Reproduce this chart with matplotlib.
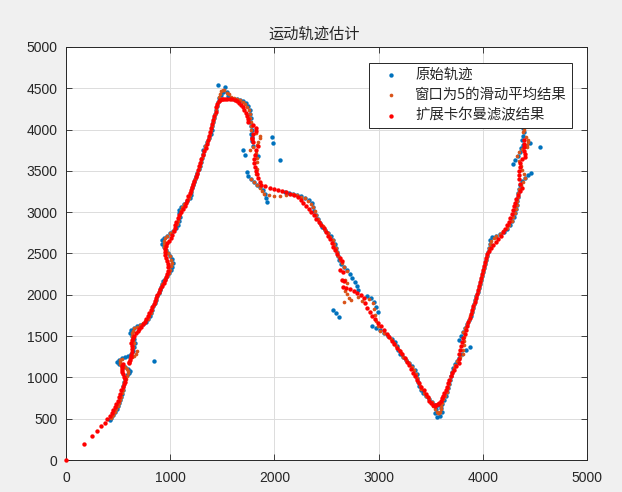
import numpy as np
import pandas as pd
import matplotlib
matplotlib.use("Agg")
import matplotlib.pyplot as plt

plt.rcParams['font.family'] = ['Liberation Sans', 'DejaVu Sans']
CJK = ['Noto Sans CJK SC', 'DejaVu Sans']

# Raw measured positions (x, y) in the order they were recorded
raw_x = [422, 432, 451, 470, 489, 499, 509, 518, 528, 537, 547, 547, 557, 566, 585, 605, 614, 595, 566, 537,
         509, 489, 509, 537, 566, 595, 845, 624, 643, 653, 662, 653, 633, 614, 624, 653, 681, 710, 739, 768,
         787, 806, 816, 825, 835, 854, 864, 873, 893, 902, 912, 921, 931, 950, 969, 988, 1008, 1017, 1027, 1017,
         998, 979, 960, 941, 921, 921, 941, 969, 998, 1027, 1056, 1075, 1084, 1094, 1084, 1084, 1104, 1132, 1161, 1190,
         1200, 1200, 1209, 1219, 1228, 1238, 1248, 1257, 1276, 1286, 1296, 1305, 1315, 1315, 1334, 1353, 1372, 1391, 1401, 1401,
         1411, 1420, 1430, 1440, 1449, 1459, 1468, 1488, 1459, 1507, 1526, 1545, 1555, 1584, 1612, 1641, 1670, 1699, 1728, 1747,
         1766, 1766, 1776, 1766, 1776, 1785, 1776, 1785, 1977, 1986, 1785, 1699, 1718, 1795, 1843, 2054, 1737, 1747, 1776, 1805,
         1834, 1862, 1891, 1910, 1920, 1930, 2102, 2140, 2179, 2217, 2255, 2294, 2332, 2361, 2371, 2380, 2399, 2418, 2438, 2457,
         2486, 2514, 2543, 2563, 2582, 2591, 2601, 2610, 2620, 2639, 2668, 2697, 2726, 2745, 2563, 2774, 2591, 2793, 2620, 2803,
         2889, 2927, 2956, 2975, 2994, 2937, 2975, 3013, 3052, 3090, 3129, 3157, 3176, 3186, 3205, 3234, 3263, 3292, 3320, 3349,
         3368, 3368, 3378, 3388, 3407, 3426, 3455, 3484, 3512, 3541, 3551, 3541, 3560, 3589, 3608, 3599, 3570, 3608, 3627, 3647,
         3656, 3666, 3675, 3685, 3695, 3704, 3714, 3733, 3752, 3772, 3800, 3839, 3877, 3772, 3791, 3810, 3829, 3848, 3867, 3887,
         3896, 3906, 3916, 3925, 3935, 3954, 3964, 3973, 3983, 3992, 4002, 4012, 4021, 4031, 4040, 4050, 4060, 4069, 4069, 4088,
         4127, 4165, 4203, 4232, 4261, 4280, 4299, 4309, 4318, 4328, 4328, 4338, 4338, 4347, 4357, 4376, 4405, 4434, 4463, 4290,
         4309, 4338, 4357, 4367, 4386, 4453, 4549, 4376, 4386, 4395, 4386, 4405]
raw_y = [484, 508, 545, 581, 617, 654, 690, 726, 763, 799, 847, 896, 944, 993, 1029, 1053, 1078, 1102, 1126, 1138,
         1162, 1186, 1211, 1235, 1247, 1259, 1199, 1283, 1320, 1368, 1417, 1465, 1501, 1538, 1574, 1598, 1622, 1634, 1647, 1671,
         1707, 1743, 1780, 1816, 1864, 1901, 1937, 1986, 2022, 2058, 2095, 2131, 2167, 2191, 2228, 2264, 2300, 2337, 2385, 2433,
         2470, 2506, 2542, 2579, 2615, 2664, 2688, 2712, 2748, 2772, 2809, 2845, 2894, 2942, 2990, 3027, 3063, 3099, 3136, 3172,
         3208, 3245, 3293, 3329, 3366, 3402, 3438, 3475, 3523, 3559, 3608, 3656, 3705, 3753, 3801, 3850, 3898, 3947, 3995, 4044,
         4092, 4141, 4189, 4237, 4286, 4334, 4383, 4419, 4540, 4455, 4516, 4455, 4407, 4383, 4371, 4371, 4359, 4347, 4322, 4286,
         4237, 4189, 4141, 4092, 4044, 3995, 3947, 3911, 3911, 3838, 3862, 3753, 3693, 3802, 3680, 3632, 3487, 3438, 3402, 3366,
         3329, 3305, 3269, 3220, 3172, 3124, 3245, 3233, 3220, 3208, 3196, 3172, 3148, 3111, 3063, 3015, 2966, 2918, 2869, 2821,
         2785, 2748, 2712, 2664, 2615, 2567, 2518, 2470, 2421, 2373, 2337, 2300, 2252, 2203, 1816, 2155, 1780, 2107, 1731, 2058,
         1986, 1961, 1913, 1852, 1792, 1622, 1598, 1574, 1538, 1501, 1465, 1429, 1380, 1332, 1283, 1247, 1211, 1174, 1138, 1090,
         1041, 993, 944, 896, 847, 811, 775, 738, 702, 666, 617, 569, 521, 533, 581, 630, 666, 678, 726, 775,
         823, 872, 920, 969, 1017, 1065, 1114, 1162, 1199, 1235, 1283, 1332, 1368, 1453, 1501, 1550, 1598, 1647, 1695, 1743,
         1792, 1840, 1889, 1937, 1986, 2034, 2082, 2131, 2179, 2228, 2276, 2324, 2373, 2421, 2470, 2518, 2567, 2615, 2664, 2700,
         2712, 2736, 2760, 2797, 2845, 2894, 2942, 2990, 3039, 3087, 3136, 3184, 3233, 3281, 3329, 3378, 3414, 3450, 3475, 3584,
         3632, 3680, 3729, 3777, 3814, 3838, 3790, 3874, 3923, 3971, 4020, 4056]

label_raw = '原始轨迹'
label_ma = '窗口为5的滑动平均结果'
label_kf = '扩展卡尔曼滤波结果'
title_text = '运动轨迹估计'
window = 5

raw_x = np.asarray(raw_x, dtype=float)
raw_y = np.asarray(raw_y, dtype=float)

# Moving average over a centred window of 5 samples
ma_x = pd.Series(raw_x).rolling(window, center=True, min_periods=1).mean().to_numpy()
ma_y = pd.Series(raw_y).rolling(window, center=True, min_periods=1).mean().to_numpy()


def kalman_rw(zx, zy, q=0.04, r=1.0, p0=0.63):
    """Random-walk position Kalman filter, state initialised at the origin."""
    z = np.column_stack([zx, zy])
    x = np.zeros(2)
    p = p0
    out = [x.copy()]
    for zk in z:
        p = p + q
        k = p / (p + r)
        x = x + k * (zk - x)
        p = (1 - k) * p
        out.append(x.copy())
    out = np.array(out)
    return out[:, 0], out[:, 1]


kf_x, kf_y = kalman_rw(raw_x, raw_y)

fig = plt.figure(figsize=(6.22, 4.92), dpi=100, facecolor='#f0f0f0')
ax = fig.add_axes([66 / 622, 32 / 492, 521 / 622, 413 / 492])
ax.set_facecolor('white')

c_raw = '#0072BD'
c_ma = '#D95319'
c_kf = '#FF0000'

ax.scatter(raw_x, raw_y, s=10, color=c_raw, linewidths=0, zorder=2, label=label_raw)
ax.scatter(ma_x, ma_y, s=7, color=c_ma, linewidths=0, zorder=3, label=label_ma)
ax.scatter(kf_x, kf_y, s=10, color=c_kf, linewidths=0, zorder=4, label=label_kf, clip_on=False)

ax.set_xlim(0, 5000)
ax.set_ylim(0, 5000)
ax.set_xticks(np.arange(0, 5001, 1000))
ax.set_yticks(np.arange(0, 5001, 500))
ax.grid(True, color='#dcdcdc', linewidth=0.7, zorder=0)
ax.set_axisbelow(True)
ax.tick_params(direction='in', length=4, width=0.6, colors='#262626', labelsize=10,
               top=True, right=True)
ax.tick_params(axis='x', pad=8)
ax.tick_params(axis='y', pad=6)
for sp in ax.spines.values():
    sp.set_color('#262626')
    sp.set_linewidth(0.7)

ax.set_title(title_text, family=CJK, fontsize=11, color='#262626', pad=6, x=0.476)

leg = ax.legend(loc='upper right', bbox_to_anchor=(0.971, 0.961), borderaxespad=0,
                prop={'family': CJK, 'size': 10.4}, fancybox=False, framealpha=1,
                edgecolor='#262626', scatterpoints=1, handletextpad=0.45,
                borderpad=0.35, labelspacing=0.42, handlelength=2.4)
leg.get_frame().set_linewidth(0.7)
for t in leg.get_texts():
    t.set_color('#262626')

fig.savefig('out.png', dpi=100, facecolor=fig.get_facecolor())
